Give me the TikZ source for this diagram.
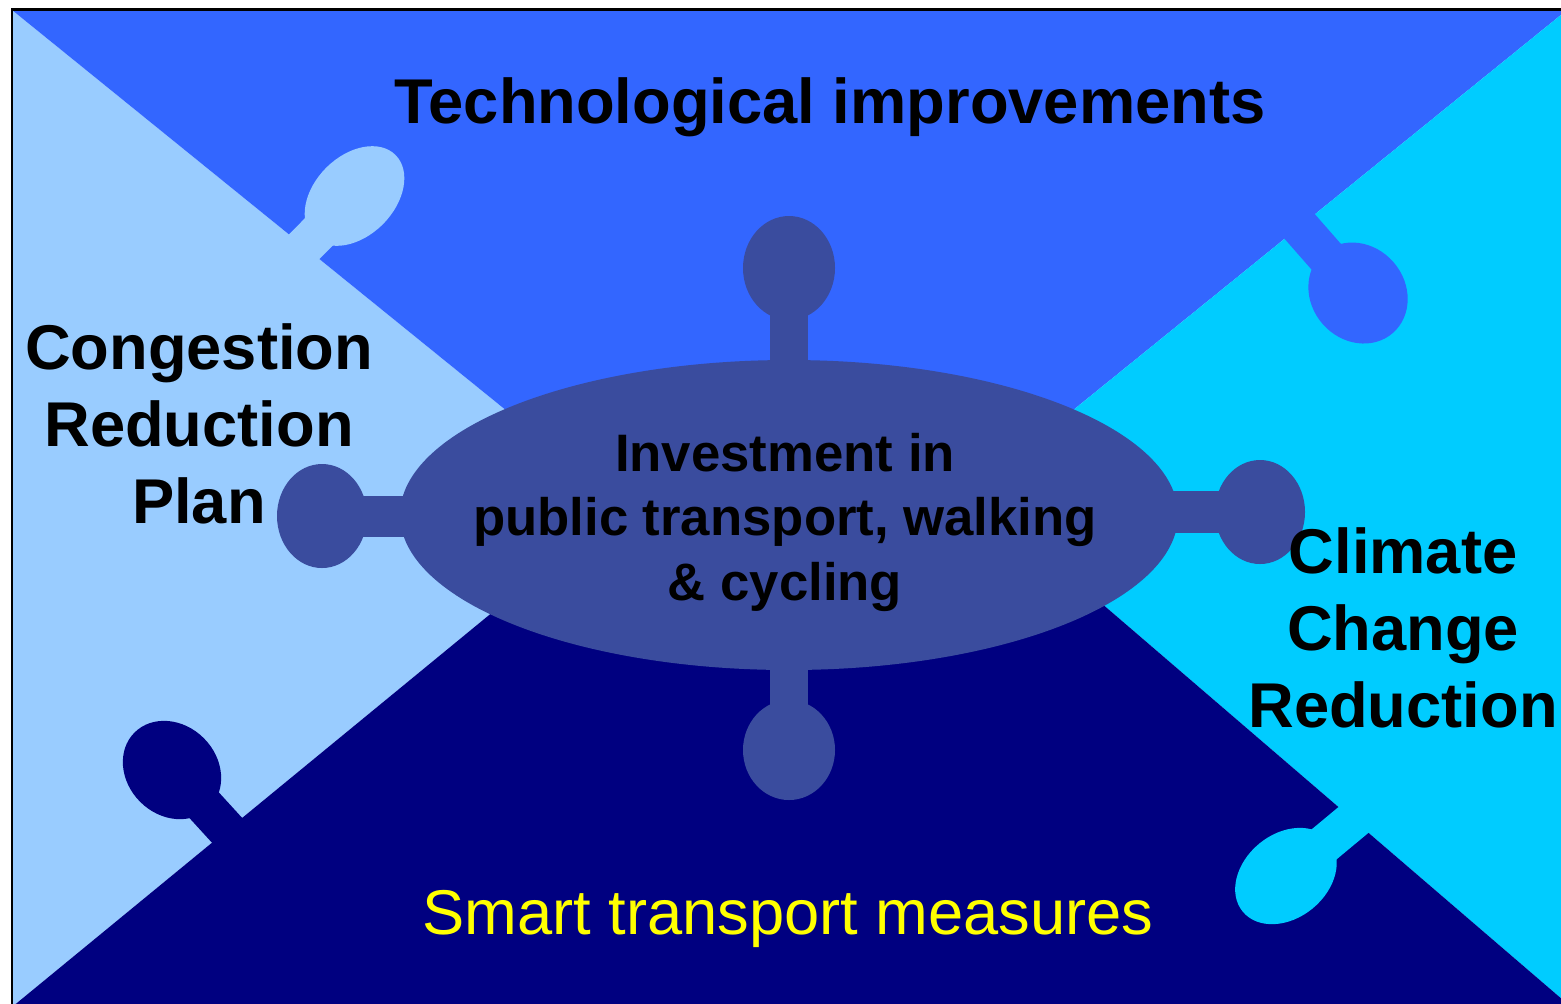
\documentclass[tikz,border=0pt]{standalone}
\usepackage{fontspec}
\setmainfont{Liberation Sans}
\definecolor{lightpiece}{HTML}{99CCFF}
\definecolor{toppiece}{HTML}{3366FF}
\definecolor{rightpiece}{HTML}{00CCFF}
\definecolor{bottompiece}{HTML}{000080}
\definecolor{hub}{HTML}{3A4C9E}
\definecolor{smartyellow}{HTML}{FFFF00}
\begin{document}
\begin{tikzpicture}[x=0.1mm,y=-0.1mm,
  bigtext/.style={font=\fontsize{18}{21.8}\selectfont\bfseries, align=center, inner sep=0pt, anchor=base},
  hubtext/.style={font=\fontsize{15}{18.3}\selectfont\bfseries, align=center, inner sep=0pt, anchor=base},
  stem/.style={line width=3.9mm, line cap=butt}]
\useasboundingbox (0,0) rectangle (1561,1003);
\clip (0,0) rectangle (1561,1003);
% frame corners and apexes
\coordinate (TL) at (12,10);
\coordinate (TR) at (1567,10);
\coordinate (BR) at (1570,1006);
\coordinate (BL) at (12,1007);
\coordinate (LA) at (623,505);
\coordinate (RA) at (972,492);
% pieces
\fill[lightpiece] (TL) -- (LA) -- (BL) -- cycle;
\fill[toppiece] (TL) -- (TR) -- (RA) -- (LA) -- cycle;
\fill[rightpiece] (TR) -- (BR) -- (RA) -- cycle;
\fill[bottompiece] (BL) -- (LA) -- (RA) -- (BR) -- cycle;
% puzzle tabs on the diagonals
\coordinate (k1) at (354.5,196);   \coordinate (s1) at (290,261);
\coordinate (k2) at (1358,293);    \coordinate (s2) at (1287,212);
\coordinate (k3) at (172,770);     \coordinate (s3) at (240.5,845);
\coordinate (k4) at (1286,876);    \coordinate (s4) at (1369,807);
\draw[stem, lightpiece] (k1) -- (s1);
\fill[lightpiece, rotate around={45:(k1)}] (k1) ellipse [x radius=5.8mm, y radius=4mm];
\draw[stem, toppiece] (k2) -- (s2);
\fill[toppiece, rotate around={-49:(k2)}] (k2) ellipse [x radius=5.3mm, y radius=4.7mm];
\draw[stem, bottompiece] (k3) -- (s3);
\fill[bottompiece, rotate around={-45:(k3)}] (k3) ellipse [x radius=5.3mm, y radius=4.5mm];
\draw[stem, rightpiece] (k4) -- (s4);
\fill[rightpiece, rotate around={39.5:(k4)}] (k4) ellipse [x radius=5.6mm, y radius=4.2mm];
% central hub
\coordinate (hc) at (789,515);
\coordinate (ktop) at (789,268);
\coordinate (kbot) at (789,750);
\coordinate (kleft) at (322,516);
\coordinate (kright) at (1260,512);
\draw[stem, hub, line width=3.8mm] (ktop) -- (789,400);
\draw[stem, hub, line width=3.8mm] (kbot) -- (789,630);
\draw[stem, hub, line width=4.1mm] (kleft) -- (450,516);
\draw[stem, hub, line width=4.2mm] (kright) -- (1130,512);
\fill[hub] (hc) ellipse [x radius=38.9mm, y radius=15.5mm];
\fill[hub] (ktop) ellipse [x radius=4.6mm, y radius=5.2mm];
\fill[hub] (kbot) ellipse [x radius=4.6mm, y radius=5.0mm];
\fill[hub] (kleft) ellipse [x radius=4.5mm, y radius=5.2mm];
\fill[hub] (kright) ellipse [x radius=4.5mm, y radius=5.2mm];
% frame
\draw[black, line width=0.8pt] (12,9.5) rectangle (1580,1015);
% texts (anchor base = baseline of the last line)
\node[bigtext] (tech) at (830,123) {Technological improvements};
\node[bigtext] (cong) at (199,523) {Congestion\\Reduction\\Plan};
\node[bigtext] (clim) at (1403,727) {Climate\\Change\\Reduction};
\node[hubtext] (inv) at (785,600) {Investment in\\public transport, walking\\\& cycling};
\node[font=\fontsize{18}{21.8}\selectfont, text=smartyellow, inner sep=0pt, anchor=base] (smart) at (788,934) {Smart transport measures};
\end{tikzpicture}
\end{document}
